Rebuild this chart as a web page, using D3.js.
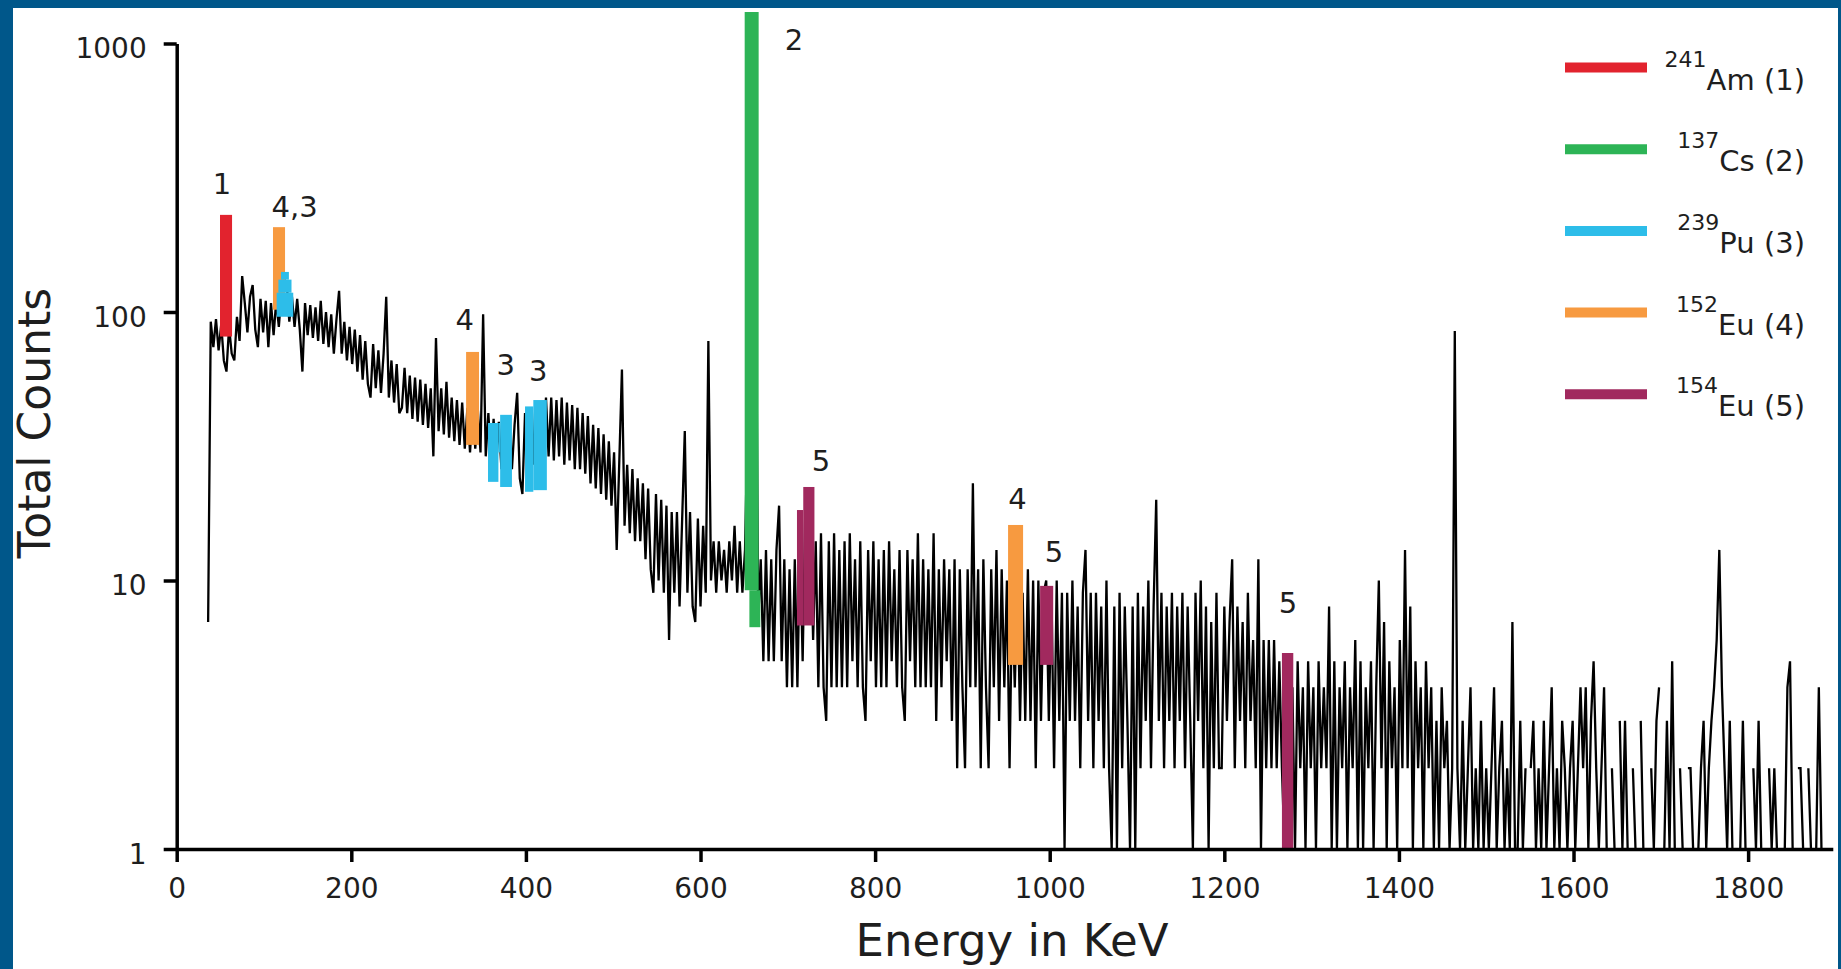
<!DOCTYPE html>
<html>
<head>
<meta charset="utf-8">
<script src="https://cdn.jsdelivr.net/npm/d3@7"></script>
<style>
  html, body { margin: 0; padding: 0; background: #00578a; }
  svg { display: block; }
  text { font-family: "DejaVu Sans", Verdana, sans-serif; fill: #1e1e1e; }
</style>
</head>
<body>
<svg id="chart" width="1841" height="969"></svg>
<script>
// ---------------------------------------------------------------
// Gamma spectrum: counts per 3 keV channel, stored in energy blocks
// ---------------------------------------------------------------
const binWidthKeV = 3;
const segmentStarts = [36, 336, 636, 936, 1236, 1536];

const counts036 = [
  7, 92, 74, 94, 72, 90, 66, 60, 88, 70,
  66, 96, 78, 136, 108, 84, 114, 126, 86, 74,
  112, 84, 110, 74, 108, 82, 110, 88, 118, 132,
  128, 92, 114, 88, 112, 86, 60, 108, 82, 106,
  80, 104, 78, 110, 76, 100, 74, 98, 70, 94,
  120, 70, 92, 66, 88, 64, 86, 60, 82, 56,
  78, 54, 48, 76, 52, 72, 50, 70, 114, 48,
  66, 46, 64, 42, 44, 62, 42, 58, 40, 57,
  39, 56, 38, 54, 37, 52, 29, 80, 36, 52,
  35, 55, 34, 48, 33, 47, 32, 46, 31, 44
];
const counts336 = [
  30, 44, 31, 43, 30, 98, 29, 42, 28, 40,
  27, 39, 26, 38, 25, 37, 26, 38, 50, 24,
  21, 42, 28, 44, 27, 46, 28, 46, 29, 48,
  29, 48, 28, 47, 29, 48, 27, 46, 28, 45,
  26, 44, 26, 42, 25, 41, 23, 38, 22, 37,
  21, 35, 20, 33, 19, 30, 13, 28, 61, 16,
  27, 15, 26, 14, 24, 14, 23, 12, 22, 11,
  9, 21, 10, 20, 9, 19, 6, 18, 9, 18,
  8, 17, 36, 9, 18, 8, 7, 17, 8, 16,
  9, 78, 10, 14, 9, 14, 10, 13, 9, 14
];
const counts636 = [
  10, 16, 9, 14, 9, 13, 40, 600, 1300, 300,
  7, 12, 5, 13, 5, 12, 5, 13, 19, 5,
  12, 4, 11, 4, 12, 4, 14, 5, 18, 22,
  16, 6, 14, 4, 15, 4, 3, 14, 4, 15,
  4, 13, 4, 14, 4, 15, 5, 12, 4, 14,
  4, 3, 13, 5, 14, 4, 12, 4, 13, 4,
  14, 5, 11, 4, 13, 4, 3, 13, 5, 12,
  4, 15, 4, 12, 4, 11, 4, 15, 3, 11,
  4, 12, 5, 11, 3, 12, 2, 11, 4, 2,
  11, 4, 23, 4, 11, 2, 12, 4, 2, 11
];
const counts936 = [
  4, 13, 3, 11, 4, 10, 2, 9, 4, 10,
  3, 9, 3, 11, 3, 10, 2, 10, 3, 9,
  10, 3, 9, 2, 10, 3, 9, 1, 9, 3,
  10, 3, 8, 2, 9, 13, 3, 9, 2, 9,
  3, 8, 2, 10, 2, 1, 8, 1, 9, 2,
  8, 3, 1, 8, 1, 9, 2, 8, 3, 10,
  2, 8, 20, 3, 9, 2, 8, 3, 9, 2,
  8, 3, 9, 2, 8, 3, 1, 9, 3, 10,
  2, 8, 1, 7, 2, 9, 2, 2, 8, 3,
  7, 12, 2, 8, 3, 7, 2, 9, 3, 6
];
const counts1236 = [
  2, 12, 1, 6, 2, 6, 2, 6, 2, 5,
  2, 1, 4, 1, 4, 1, 5, 2, 4, 1,
  5, 2, 4, 1, 5, 2, 4, 2, 8, 1,
  5, 1, 4, 2, 5, 1, 4, 2, 6, 1,
  5, 1, 4, 2, 5, 1, 4, 10, 2, 7,
  1, 5, 2, 4, 1, 6, 2, 13, 2, 8,
  1, 5, 2, 4, 1, 5, 2, 4, 1, 3,
  1, 4, 2, 3, 1, 2, 85, 2, 1, 3,
  1, 2, 4, 1, 2, 1, 3, 1, 2, 1,
  2, 4, 1, 2, 3, 1, 2, 1, 7, 1
];
const counts1536 = [
  1, 3, 1, 2, 0, 2, 3, 1, 2, 1,
  3, 1, 2, 4, 1, 2, 1, 3, 2, 1,
  2, 3, 1, 2, 4, 2, 4, 1, 3, 5,
  2, 1, 2, 4, 1, 0, 2, 1, 0, 3,
  1, 3, 1, 0, 2, 1, 0, 3, 1, 0,
  0, 2, 1, 3, 4, 0, 1, 3, 1, 5,
  1, 0, 2, 1, 0, 2, 2, 1, 0, 1,
  2, 3, 1, 2, 3, 4, 6, 13, 4, 2,
  1, 3, 1, 0, 0, 1, 3, 1, 0, 0,
  2, 1, 3, 1, 0, 0, 2, 1, 2, 1,
  0, 0, 1, 4, 5, 1, 0, 2, 2, 1,
  0, 2, 1, 0, 1, 4, 1, 0, 0, 1,
  0
];
const segmentCounts = [counts036, counts336, counts636, counts936, counts1236, counts1536];

// ---------------------------------------------------------------
// Identified nuclides (legend) and their highlighted peak windows
// ---------------------------------------------------------------
const nuclideIds     = [1, 2, 3, 4, 5];
const nuclideMass    = ["241", "137", "239", "152", "154"];
const nuclideSymbol  = ["Am", "Cs", "Pu", "Eu", "Eu"];
const nuclideColors  = ["#e2232e", "#2db456", "#2dbde9", "#f79a40", "#a1295e"];

// Highlight windows: nuclide id, energy range (keV), count range
const markNuclide = [1, 4, 3, 3, 3, 4, 3, 3, 3, 3, 3, 2, 2, 5, 5, 4, 5, 5];
const markELo = [49.6, 110.3, 114.5, 116.5, 119.5, 331.5, 356.6, 368.5, 370.5, 399, 408.5, 650.6, 656, 710.5, 717.7, 952.3, 989, 1266];
const markEHi = [63.4, 124.1, 133.5, 131.5, 128.5, 346.3, 368.5, 370.5, 384, 408.5, 424, 666.6, 668.5, 717.7, 730.5, 969.5, 1004, 1279];
const markCLo = [81, 102, 96, 118, 132, 32, 23.3, 30, 22.3, 21.4, 21.7, 9.2, 6.7, 6.8, 6.8, 4.85, 4.85, 1];
const markCHi = [230, 207, 118, 132, 141, 71, 38.6, 38.6, 41.4, 44.5, 47, 1310, 9.2, 18.3, 22.3, 16.1, 9.55, 5.37];

// Peak annotations: text and anchor (keV, counts)
const peakLabelText   = ["1", "4,3", "4", "3", "3", "2", "5", "4", "5", "5"];
const peakLabelEnergy = [52, 135, 330, 377, 414, 707, 738, 963, 1005, 1273];
const peakLabelCounts = [300, 246, 93, 63.5, 60.3, 1031, 27.9, 20.1, 12.8, 8.25];

// Axis ticks
const xTickValues = [0, 200, 400, 600, 800, 1000, 1200, 1400, 1600, 1800];
const yTickValues = [1, 10, 100, 1000];

// ---------------------------------------------------------------
const W = 1841, H = 969;
const svg = d3.select("#chart");

// white panel inside the blue frame
svg.append("rect")
  .attr("x", 13).attr("y", 8)
  .attr("width", W - 16).attr("height", H - 8)
  .attr("fill", "#ffffff");

const x = d3.scaleLinear().domain([0, 1897]).range([176.7, 1832.8]);
const y = d3.scaleLog().domain([1, 1000]).range([849, 43.5]);

const spectrum = [];
segmentStarts.forEach((e0, k) => {
  segmentCounts[k].forEach((c, i) => spectrum.push({ e: e0 + binWidthKeV * i, c }));
});

// spectrum trace (empty channels break the line)
const line = d3.line()
  .defined(d => d.c > 0)
  .x(d => x(d.e))
  .y(d => y(d.c));

svg.append("path")
  .datum(spectrum)
  .attr("d", line)
  .attr("fill", "none")
  .attr("stroke", "#000")
  .attr("stroke-width", 2.3)
  .attr("stroke-linejoin", "miter");

// coloured peak windows
const colorOf = d3.scaleOrdinal().domain(nuclideIds).range(nuclideColors);
svg.append("g")
  .selectAll("rect")
  .data(markNuclide.map((id, i) => ({ id, e0: markELo[i], e1: markEHi[i], c0: markCLo[i], c1: markCHi[i] })))
  .join("rect")
  .attr("x", d => x(d.e0))
  .attr("width", d => x(d.e1) - x(d.e0))
  .attr("y", d => y(d.c1))
  .attr("height", d => y(d.c0) - y(d.c1))
  .attr("fill", d => colorOf(d.id));

// axes
const xAxis = d3.axisBottom(x)
  .tickValues(xTickValues)
  .tickFormat(d3.format("d"))
  .tickSize(13).tickSizeOuter(0).tickPadding(16);
const gx = svg.append("g")
  .attr("transform", `translate(0,${y(1)})`)
  .call(xAxis);

const yAxis = d3.axisLeft(y)
  .tickValues(yTickValues)
  .tickFormat(d3.format("d"))
  .tickSize(13).tickSizeOuter(0).tickPadding(17);
const gy = svg.append("g")
  .attr("transform", `translate(${x(0)},0)`)
  .call(yAxis);

[gx, gy].forEach(g => {
  g.attr("font-size", 28).attr("font-family", "DejaVu Sans");
  g.select(".domain").attr("stroke", "#000").attr("stroke-width", 3.5);
  g.selectAll(".tick line").attr("stroke", "#000").attr("stroke-width", 3.5);
  g.selectAll(".tick text").attr("fill", "#1e1e1e");
});
gy.selectAll(".tick text").attr("dy", "0.5em");

// axis titles
svg.append("text")
  .attr("x", 1012).attr("y", 956)
  .attr("text-anchor", "middle")
  .attr("font-size", 45)
  .text("Energy in KeV");

svg.append("text")
  .attr("transform", "translate(50,423) rotate(-90)")
  .attr("text-anchor", "middle")
  .attr("font-size", 44)
  .text("Total Counts");

// peak numbers
svg.append("g")
  .selectAll("text")
  .data(peakLabelText.map((t, i) => ({ t, e: peakLabelEnergy[i], c: peakLabelCounts[i] })))
  .join("text")
  .attr("x", d => x(d.e))
  .attr("y", d => y(d.c))
  .attr("text-anchor", "middle")
  .attr("dominant-baseline", "central")
  .attr("font-size", 29)
  .text(d => d.t);

// legend
const legend = svg.append("g");
const rowY = i => 67.5 + i * 81.7;
nuclideIds.forEach((id, i) => {
  legend.append("line")
    .attr("x1", 1565).attr("x2", 1647)
    .attr("y1", rowY(i)).attr("y2", rowY(i))
    .attr("stroke", nuclideColors[i])
    .attr("stroke-width", 10);
  const t = legend.append("text")
    .attr("x", 1805).attr("y", rowY(i) + 22)
    .attr("text-anchor", "end");
  t.append("tspan").attr("font-size", 22).attr("dy", -23).text(nuclideMass[i]);
  t.append("tspan").attr("font-size", 29).attr("dy", 23).text(`${nuclideSymbol[i]} (${id})`);
});
</script>
</body>
</html>
